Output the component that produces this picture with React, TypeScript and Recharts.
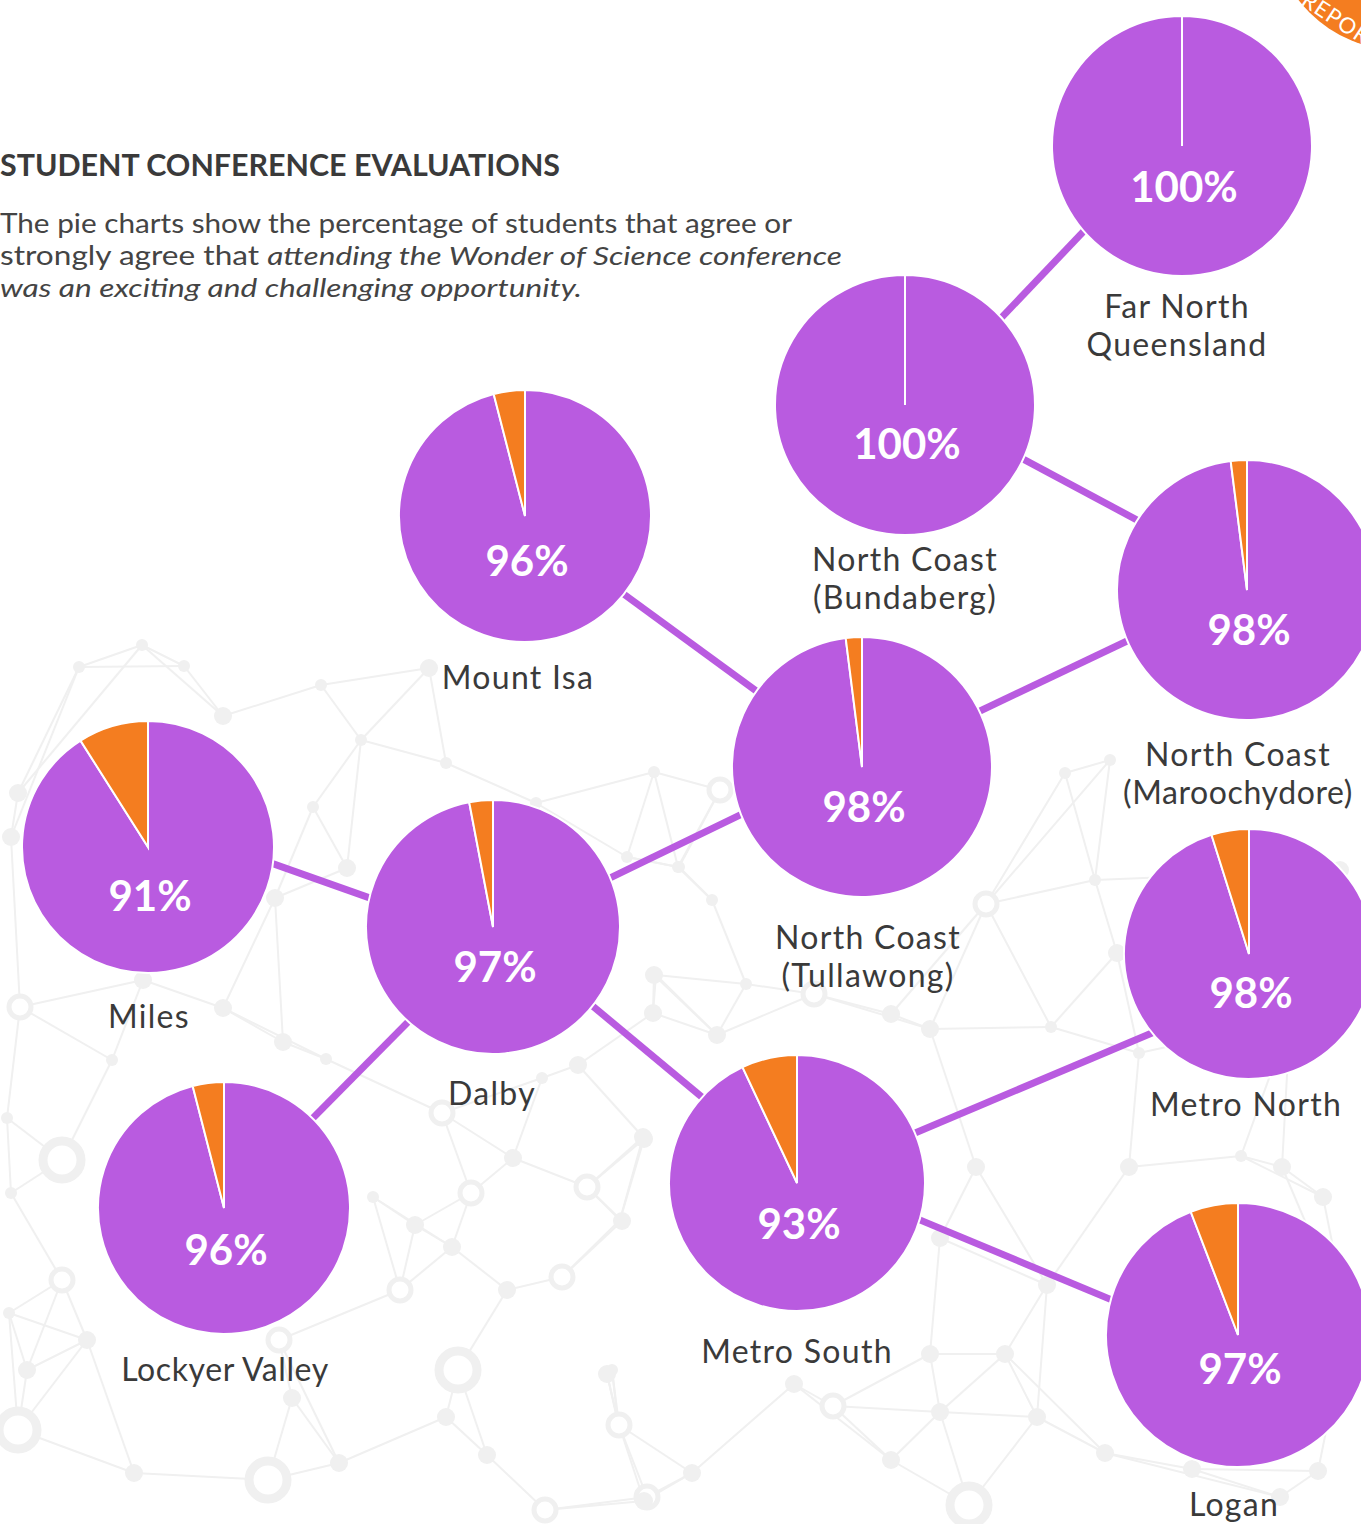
import React from 'react'
import { PieChart, Pie, Cell } from 'recharts'

// values
const regions = [
  'Far North Queensland',
  'North Coast (Bundaberg)',
  'Mount Isa',
  'North Coast (Maroochydore)',
  'North Coast (Tullawong)',
  'Miles',
  'Dalby',
  'Metro North',
  'Lockyer Valley',
  'Metro South',
  'Logan',
]
const nameLines = [
  ['Far North', 'Queensland'],
  ['North Coast', '(Bundaberg)'],
  ['Mount Isa'],
  ['North Coast', '(Maroochydore)'],
  ['North Coast', '(Tullawong)'],
  ['Miles'],
  ['Dalby'],
  ['Metro North'],
  ['Lockyer Valley'],
  ['Metro South'],
  ['Logan'],
]
// printed percentage (agree / strongly agree)
const agreePct = [100, 100, 96, 98, 98, 91, 97, 98, 96, 93, 97]
// size of the orange wedge as drawn
const otherPct = [0, 0, 4, 2, 2, 9, 3, 5, 4, 7, 6]

// layout of each pie on the page
const layout = [
  { cx: 1182, cy: 146, r: 130, pctY: 187, nameX: 1177, nameY: 307 },
  { cx: 905, cy: 405, r: 130, pctY: 444, nameX: 905, nameY: 560 },
  { cx: 525, cy: 516, r: 126, pctY: 561, nameX: 518, nameY: 678 },
  { cx: 1247, cy: 590, r: 130, pctY: 630, nameX: 1238, nameY: 755 },
  { cx: 862, cy: 767, r: 130, pctY: 807, nameX: 868, nameY: 938 },
  { cx: 148, cy: 847, r: 126, pctY: 896, nameX: 149, nameY: 1017 },
  { cx: 493, cy: 927, r: 127, pctY: 967, nameX: 492, nameY: 1094 },
  { cx: 1249, cy: 954, r: 125, pctY: 993, nameX: 1246, nameY: 1105 },
  { cx: 224, cy: 1208, r: 126, pctY: 1250, nameX: 225, nameY: 1370 },
  { cx: 797, cy: 1183, r: 128, pctY: 1224, nameX: 797, nameY: 1352 },
  { cx: 1238, cy: 1335, r: 132, pctY: 1369, nameX: 1234, nameY: 1505 },
]

// purple connectors, as visible between pies
const connectors = [
  [1083, 232, 1003, 316],
  [1025, 460, 1137, 520],
  [1125, 642, 980, 711],
  [755, 690, 625, 595],
  [740, 815, 610, 878],
  [370, 898, 274, 864],
  [408, 1022, 313, 1118],
  [595, 1008, 703, 1098],
  [915, 1133, 1152, 1033],
  [920, 1220, 1112, 1300],
]

// faint background network: x, y, kind (0 small dot, 1 dot, 2 ring, 3 big ring)
const netNodes: [number, number, number][] = [
  [142, 645, 0], [79, 667, 0], [184, 666, 0], [223, 716, 1], [321, 685, 0], [361, 740, 0],
  [313, 807, 0], [429, 668, 1], [446, 763, 0], [18, 793, 1], [11, 837, 1], [347, 868, 1],
  [275, 898, 1], [654, 772, 0], [627, 857, 0], [679, 867, 0], [654, 975, 1], [143, 980, 1],
  [223, 1008, 1], [20, 1007, 2], [536, 803, 0], [720, 790, 2],
  [112, 1060, 0], [283, 1042, 1], [326, 1059, 0], [62, 1160, 3], [7, 1118, 0], [11, 1193, 0],
  [373, 1197, 0], [415, 1225, 1], [442, 1113, 2], [513, 1158, 1], [471, 1193, 2], [587, 1187, 2],
  [578, 1065, 1], [542, 1078, 0], [452, 1247, 1], [507, 1290, 1], [400, 1290, 2], [562, 1277, 2],
  [620, 1220, 0], [643, 1137, 1], [62, 1280, 2], [87, 1340, 1], [9, 1313, 0], [458, 1370, 3],
  [279, 1340, 2], [27, 1370, 1], [18, 1430, 3], [292, 1398, 1], [618, 1423, 0], [268, 1480, 3],
  [545, 1510, 2], [647, 1497, 2], [134, 1473, 1], [339, 1463, 1], [446, 1417, 1], [487, 1455, 1],
  [612, 1370, 0],
  [678, 867, 0], [712, 900, 0], [986, 904, 2], [1095, 880, 0], [656, 975, 0], [653, 1013, 1],
  [746, 984, 0], [814, 994, 2], [891, 1014, 1], [930, 1029, 1], [1051, 1027, 0], [717, 1035, 1],
  [1117, 953, 1], [1139, 1053, 0], [976, 1167, 1], [1129, 1167, 1], [1241, 1156, 0], [1282, 1167, 1],
  [1323, 1197, 1], [644, 1139, 1], [622, 1221, 1], [940, 1238, 1], [1047, 1285, 1], [1005, 1354, 1],
  [930, 1354, 1], [794, 1384, 1], [833, 1406, 2], [619, 1425, 2], [607, 1374, 1], [940, 1412, 1],
  [1037, 1417, 1], [1105, 1453, 1], [891, 1460, 1], [692, 1473, 1], [969, 1505, 3], [644, 1501, 1],
  [1318, 1471, 1], [1280, 1497, 1], [1192, 1469, 1], [1348, 1322, 1], [1065, 773, 0], [1110, 760, 0],
  [1340, 870, 1], [1290, 1020, 0],
]

const W = 1361
const H = 1524
const PURPLE = '#B95BE0'
const ORANGE = '#F47D20'
const FONT = 'Lato, "Open Sans", sans-serif'
const NET = '#f0f0f0'

const pieData = regions.map((name, i) => [
  { name: 'Agree', region: name, value: agreePct[i] },
  { name: 'Other', region: name, value: otherPct[i] },
])

// join each background node to its nearest neighbours
const netEdges: [number, number][] = []
netNodes.forEach(([x, y], i) => {
  const near = netNodes
    .map(([x2, y2], j) => ({ j, d: Math.hypot(x2 - x, y2 - y) }))
    .filter((n) => n.j !== i)
    .sort((a, b) => a.d - b.d)
    .slice(0, 3)
  near.forEach(({ j }) => {
    if (!netEdges.some(([a, b]) => (a === j && b === i) || (a === i && b === j))) netEdges.push([i, j])
  })
})

const makeLabel = (i: number) => (props: any) => {
  if (props.index !== 0) return <g />
  const { cx, pctY, nameX, nameY } = layout[i]
  return (
    <g>
      <text
        x={cx + 2}
        y={pctY + 15}
        textAnchor="middle"
        fill="#fff"
        fontFamily={FONT}
        fontWeight={700}
        fontSize={42}
      >
        {agreePct[i]}%
      </text>
      {nameLines[i].map((line, k) => (
        <text
          key={k}
          x={nameX}
          y={nameY + 11 + k * 38}
          textAnchor="middle"
          fill="#3a3a3a"
          fontFamily={FONT}
          fontSize={32}
          letterSpacing={line.length > 12 ? 0.6 : 1.3}
        >
          {line}
        </text>
      ))}
    </g>
  )
}

export default function App() {
  return (
    <div style={{ position: 'absolute', left: 0, top: 0, width: W, height: H, background: '#fff', overflow: 'hidden' }}>
      {/* Backdrop: network, title, corner badge, connecting lines */}
      <svg width={W} height={H} style={{ position: 'absolute', left: 0, top: 0 }}>
        <g stroke={NET} strokeWidth={2}>
          {netEdges.map(([a, b], k) => (
            <line key={k} x1={netNodes[a][0]} y1={netNodes[a][1]} x2={netNodes[b][0]} y2={netNodes[b][1]} />
          ))}
        </g>
        {netNodes.map(([x, y, kind], k) =>
          kind < 2 ? (
            <circle key={k} cx={x} cy={y} r={kind === 0 ? 6 : 9} fill={NET} />
          ) : (
            <circle key={k} cx={x} cy={y} r={kind === 2 ? 11 : 19} fill="#fff" stroke={NET} strokeWidth={kind === 2 ? 5 : 9} />
          )
        )}

        <circle cx={1400} cy={-78} r={128} fill={ORANGE} />
        <text x={1300} y={4} fill="#fff" fontFamily={FONT} fontSize={22} letterSpacing={1} transform="rotate(33 1300 4)">
          REPORT
        </text>

        <text x={0} y={176} fill="#3a3a3a" fontFamily={FONT} fontWeight={700} fontSize={30} textLength={560} lengthAdjust="spacingAndGlyphs">
          STUDENT CONFERENCE EVALUATIONS
        </text>
        <g fill="#444" fontFamily={FONT} fontSize={26}>
          <text x={0} y={233} textLength={792} lengthAdjust="spacingAndGlyphs">
            The pie charts show the percentage of students that agree or
          </text>
          <text x={0} y={265} textLength={842} lengthAdjust="spacingAndGlyphs">
            strongly agree that <tspan fontStyle="italic">attending the Wonder of Science conference</tspan>
          </text>
          <text x={0} y={297} fontStyle="italic" textLength={582} lengthAdjust="spacingAndGlyphs">
            was an exciting and challenging opportunity.
          </text>
        </g>

        {connectors.map(([x1, y1, x2, y2], k) => {
          const len = Math.hypot(x2 - x1, y2 - y1)
          const ux = (x2 - x1) / len
          const uy = (y2 - y1) / len
          return (
            <line
              key={k}
              x1={x1 - ux * 25}
              y1={y1 - uy * 25}
              x2={x2 + ux * 25}
              y2={y2 + uy * 25}
              stroke={PURPLE}
              strokeWidth={7}
            />
          )
        })}
      </svg>

      <div style={{ position: 'absolute', left: 0, top: 0 }}>
        <PieChart width={W} height={H} margin={{ top: 0, right: 0, bottom: 0, left: 0 }}>
          {pieData.map((d, i) => (
            <Pie
              key={regions[i]}
              data={d}
              dataKey="value"
              nameKey="name"
              cx={layout[i].cx}
              cy={layout[i].cy}
              outerRadius={layout[i].r}
              innerRadius={0}
              startAngle={90}
              endAngle={-270}
              stroke="#fff"
              strokeWidth={2}
              label={makeLabel(i)}
              labelLine={false}
              isAnimationActive={false}
            >
              <Cell fill={PURPLE} />
              <Cell fill={ORANGE} />
            </Pie>
          ))}
        </PieChart>
      </div>
    </div>
  )
}
